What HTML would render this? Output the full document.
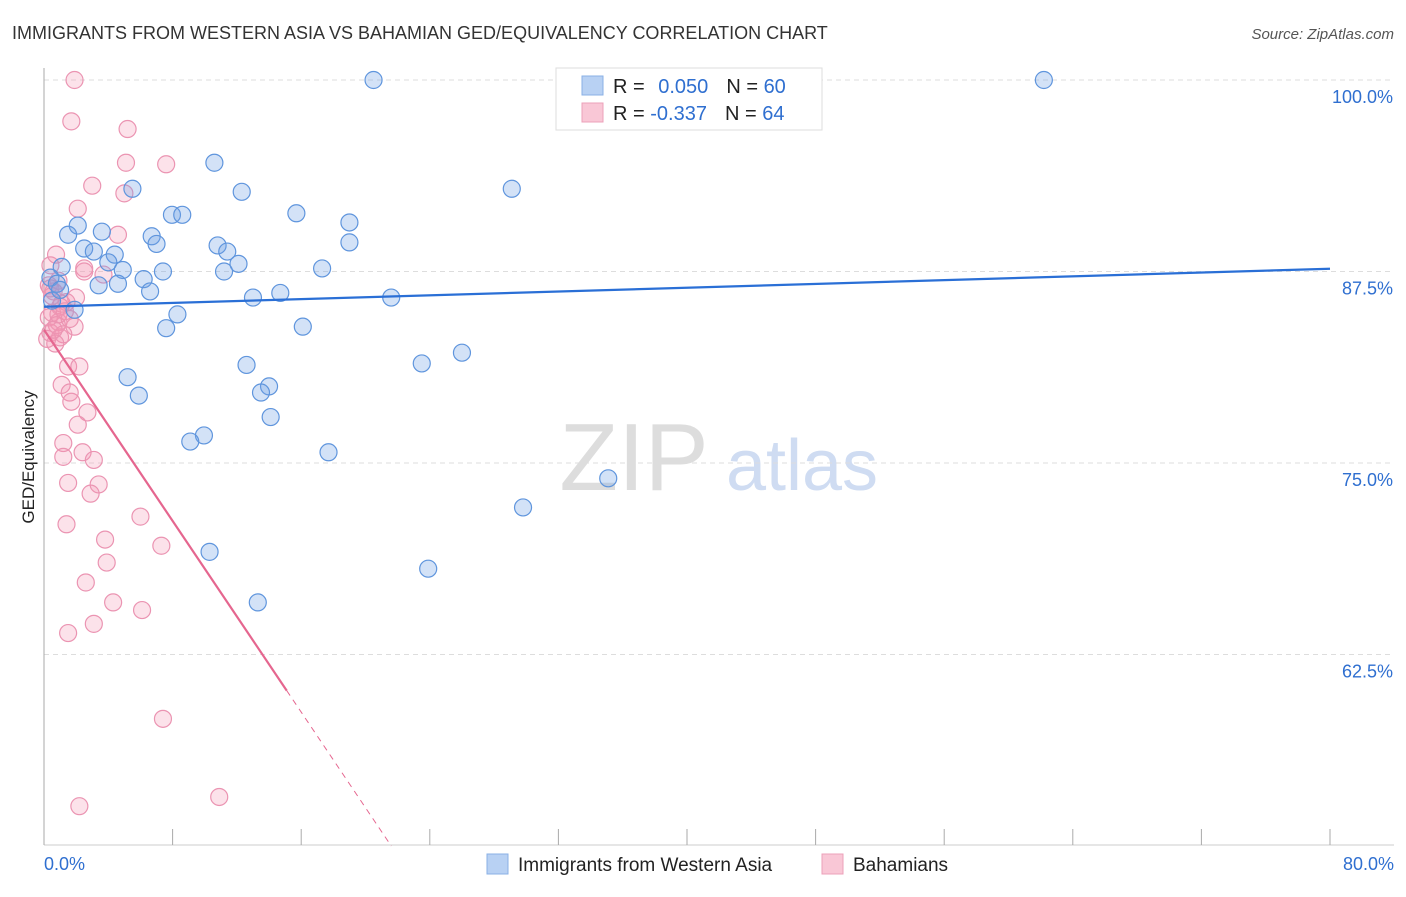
<!DOCTYPE html>
<html><head><meta charset="utf-8"><style>
body{margin:0;background:#fff;font-family:"Liberation Sans",sans-serif}
svg text{font-family:"Liberation Sans",sans-serif}
</style></head><body>
<svg id="chart" width="1406" height="892" xmlns="http://www.w3.org/2000/svg">
<text x="12" y="39" font-size="18" fill="#333">IMMIGRANTS FROM WESTERN ASIA VS BAHAMIAN GED/EQUIVALENCY CORRELATION CHART</text>
<text x="1394" y="39" font-size="15" fill="#555" text-anchor="end" font-style="italic">Source: ZipAtlas.com</text>
<text transform="translate(34,457) rotate(-90)" font-size="17" fill="#222" text-anchor="middle">GED/Equivalency</text>
<g>
<text x="634" y="490" font-size="96" fill="#ddd" text-anchor="middle" font-family="Liberation Serif">ZIP</text>
<text x="802" y="490" font-size="72" fill="#cfdcf2" text-anchor="middle">atlas</text>
</g>
<g id="grid"></g><g id="axes"></g><g id="pts"></g><g id="trend"></g>
<g>
<rect x="556" y="68" width="266" height="62" fill="#fff" stroke="#ddd"/>
<rect x="582" y="76" width="21" height="19" fill="#b8d1f3" stroke="#8ab0e6"/>
<rect x="582" y="103" width="21" height="19" fill="#f9c7d6" stroke="#eca0b9"/>
<text x="613" y="93" font-size="20" fill="#222">R = <tspan fill="#2f6fd0" dx="8">0.050</tspan><tspan dx="18" fill="#222">N = </tspan><tspan fill="#2f6fd0">60</tspan></text>
<text x="613" y="120" font-size="20" fill="#222">R = <tspan fill="#2f6fd0">-0.337</tspan><tspan dx="18" fill="#222">N = </tspan><tspan fill="#2f6fd0">64</tspan></text>
</g>
<g>
<rect x="487" y="854" width="21" height="20" fill="#b8d1f3" stroke="#8ab0e6"/>
<text x="518" y="871" font-size="19" fill="#222">Immigrants from Western Asia</text>
<rect x="822" y="854" width="21" height="20" fill="#f9c7d6" stroke="#eca0b9"/>
<text x="853" y="871" font-size="19" fill="#222">Bahamians</text>
</g>
</svg>
<script>
const blueX=[20.5,42.4,62.2,10.6,5.5,12.3,29.1,7.96,8.6,15.7,19.0,2.1,1.5,3.6,6.7,7.0,10.8,11.4,19.0,2.5,3.1,4.4,4.0,1.1,4.9,7.4,12.1,11.2,17.3,6.2,0.4,0.8,3.4,4.6,6.6,13.0,14.7,21.6,1.9,8.3,7.6,16.1,12.6,23.5,26.0,5.2,14.0,13.5,5.9,14.1,9.95,9.1,17.7,35.1,29.8,10.3,23.9,13.3,0.5,1.0];
const blueY=[100,100,100,94.6,92.9,92.7,92.9,91.2,91.2,91.3,90.7,90.5,89.9,90.1,89.8,89.3,89.2,88.8,89.4,89.0,88.8,88.6,88.1,87.8,87.6,87.5,88.0,87.5,87.7,87.0,87.1,86.7,86.6,86.7,86.2,85.8,86.1,85.8,85.0,84.7,83.8,83.9,81.4,81.5,82.2,80.6,80.0,79.6,79.4,78.0,76.8,76.4,75.7,74.0,72.1,69.2,68.1,65.9,85.6,86.3];
const pinkX=[1.9,1.7,5.2,5.1,7.6,3.0,5.0,2.1,4.6,0.75,2.5,2.5,3.7,0.4,0.3,1.99,1.4,0.5,0.9,1.9,0.4,1.0,1.5,2.2,1.1,1.6,1.7,2.7,2.1,1.2,2.4,1.2,3.1,1.5,3.4,2.9,6.0,1.4,3.8,7.3,3.9,2.6,4.3,6.1,3.1,1.5,7.4,2.2,10.9,0.6,1.0,0.3,0.8,1.2,0.5,0.9,1.3,0.2,0.7,1.1,0.4,1.6,0.6,0.9];
const pinkY=[100,97.3,96.8,94.6,94.5,93.1,92.6,91.6,89.9,88.6,87.7,87.5,87.3,87.9,86.6,85.8,85.5,84.8,84.2,83.9,83.5,83.2,81.3,81.3,80.1,79.6,79.0,78.3,77.5,76.3,75.7,75.4,75.2,73.7,73.6,73.0,71.5,71.0,70.0,69.6,68.5,67.2,65.9,65.4,64.5,63.9,58.3,52.6,53.2,86.2,85.2,84.5,84.0,83.4,85.9,86.9,84.9,83.1,82.8,85.4,86.4,84.4,83.7,84.7];
const xTicks=[0,8,16,24,32,40,48,56,64,72,80];
const yTicks=[100,87.5,75,62.5];
const yTickLabels=["100.0%","87.5%","75.0%","62.5%"];
const blueTrend=[85.2,0.031];
const pinkTrend=[83.7,-1.56];
const pinkSolidEnd=15.1;
const NS="http://www.w3.org/2000/svg";
const X=v=>44+v*1286/80, Y=v=>80+(100-v)*191.5/12.5;
function mk(t,a,p){const e=document.createElementNS(NS,t);for(const k in a)e.setAttribute(k,a[k]);p.appendChild(e);return e;}
const grid=document.getElementById('grid'),axes=document.getElementById('axes'),pts=document.getElementById('pts'),tr=document.getElementById('trend');
yTicks.forEach((v,i)=>{
 const l=mk('line',{x1:44,x2:1394,y1:Y(v),y2:Y(v),stroke:'#ddd','stroke-dasharray':'5,4'},grid);
 
 
 const t=mk('text',{x:1393,y:Y(v)+23,'font-size':18,fill:'#2f6fd0','text-anchor':'end'},axes);
 t.textContent=yTickLabels[i];
 
 
});
let a=mk('line',{x1:44,x2:44,y1:68,y2:845,stroke:'#aaa'},axes);


a=mk('line',{x1:44,x2:1394,y1:845,y2:845,stroke:'#ccc'},axes);


xTicks.forEach(v=>{
 const l=mk('line',{x1:X(v),x2:X(v),y1:829,y2:845,stroke:'#aaa'},axes);
 
 
});
let t=mk('text',{x:44,y:870,'font-size':18,fill:'#2f6fd0'},axes);t.textContent='0.0%';


t=mk('text',{x:1394,y:870,'font-size':18,fill:'#2f6fd0','text-anchor':'end'},axes);t.textContent='80.0%';


pinkX.forEach((v,i)=>{
 const c=mk('circle',{cx:X(v),cy:Y(pinkY[i]),r:8.5,fill:'rgba(244,150,180,0.28)',stroke:'#eb94b2','stroke-width':1.2},pts);
 
 
});
blueX.forEach((v,i)=>{
 const c=mk('circle',{cx:X(v),cy:Y(blueY[i]),r:8.5,fill:'rgba(110,160,230,0.3)',stroke:'#5f95dd','stroke-width':1.2},pts);
 
 
});
let l=mk('line',{x1:X(0),y1:Y(blueTrend[0]),x2:X(80),y2:Y(blueTrend[0]+80*blueTrend[1]),stroke:'#2a6fd6','stroke-width':2.2},tr);


l=mk('line',{x1:X(0),y1:Y(pinkTrend[0]),x2:X(pinkSolidEnd),y2:Y(pinkTrend[0]+pinkSolidEnd*pinkTrend[1]),stroke:'#e5668f','stroke-width':2.2},tr);


const xEnd=(50-pinkTrend[0])/pinkTrend[1];
l=mk('line',{x1:X(pinkSolidEnd),y1:Y(pinkTrend[0]+pinkSolidEnd*pinkTrend[1]),x2:X(xEnd),y2:Y(50),stroke:'#e5668f','stroke-width':1,'stroke-dasharray':'6,5'},tr);


</script>
</body></html>
